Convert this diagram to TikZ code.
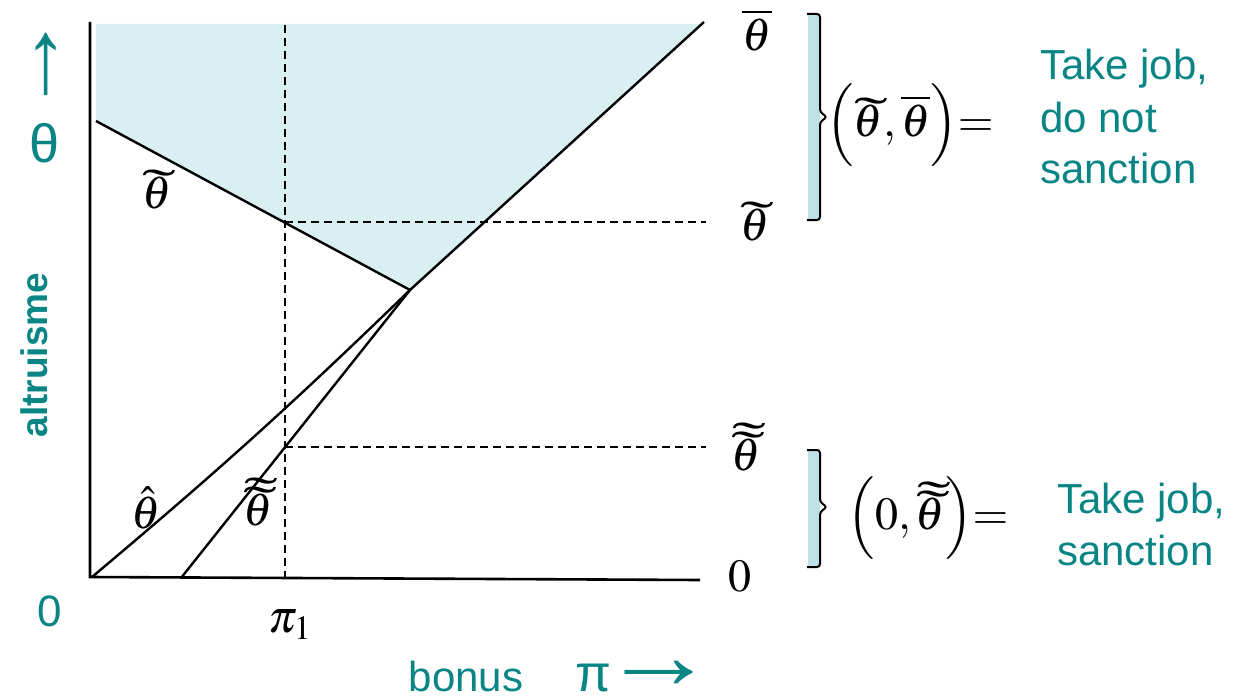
\documentclass[tikz,border=0pt]{standalone}
\usepackage{graphicx}
\usepackage{mathptmx}
\usepackage[no-math]{fontspec}
\newfontfamily\arial{Liberation Sans}
\newfontfamily\tms{Liberation Serif}
\definecolor{tealtxt}{HTML}{0A8585}
\definecolor{shadecol}{HTML}{D9EFF1}
\definecolor{bracketfill}{HTML}{BDE1E4}
\newcommand{\tacc}{\scalebox{2.2}[1.05]{\tms ˜}}
\newcommand{\tth}{\ooalign{$\theta$\cr\hidewidth\kern0.12em\raisebox{0.13em}{\tacc}\hidewidth\cr}}
\newcommand{\ttth}{\ooalign{$\theta$\cr\hidewidth\kern0.12em\raisebox{0.13em}{\tacc}\hidewidth\cr\hidewidth\kern0.15em\raisebox{0.33em}{\tacc}\hidewidth\cr}}
\tikzset{
  axisline/.style={line width=2.6pt, black},
  curve/.style={line width=2.4pt, black},
  guide/.style={line width=1.8pt, dash pattern=on 8pt off 5pt},
  mlabel/.style={inner sep=0pt, font=\fontsize{46}{52}\selectfont},
  tlabel/.style={inner sep=0pt, text=tealtxt, font=\arial\fontsize{42}{50}\selectfont},
  bracketline/.style={line width=2pt, black, rounded corners=3pt},
}
\begin{document}
\begin{tikzpicture}[x=1pt,y=-1pt]
\useasboundingbox (0,0) rectangle (1247,698);
% key points
\coordinate (O) at (92,577);
\coordinate (Ytop) at (90,22);
\coordinate (Xend) at (700,580);
\coordinate (K) at (410,290);
\coordinate (T1) at (96,121);
\coordinate (U) at (704,22);
\coordinate (D0) at (181,578);
\coordinate (P1t) at (285,25);
\coordinate (P1b) at (285,583);
\coordinate (A) at (285,222);
\coordinate (Ae) at (706,222);
\coordinate (B) at (285,447);
\coordinate (Be) at (706,447);
% shaded region
\fill[shadecol] (96,24) -- (703,24) -- (K) -- (T1) -- cycle;
% guides
\draw[guide] (P1t) -- (P1b);
\draw[guide] (A) -- (Ae);
\draw[guide] (B) -- (Be);
% axes
\draw[axisline] (Ytop) -- (90,577) -- (Xend);
% curves
\draw[curve] (T1) -- (K);
\draw[curve] (O) to[bend right=2] (K);
\draw[curve] (K) -- (U);
\draw[curve] (D0) -- (K);
% brackets
\fill[bracketfill] (808,14) rectangle (820,220);
\draw[bracketline] (807,14) -- (820,14) -- (820,112) -- (827,117) -- (820,122) -- (820,220) -- (807,220);
\fill[bracketfill] (808,450) rectangle (820,567);
\draw[bracketline] (807,450) -- (820,450) -- (820,502) -- (827,507) -- (820,512) -- (820,567) -- (807,567);
% right labels
\node[mlabel] (lbar) at (757,30) {$\overline{\theta}$};
\node[mlabel] (ltil) at (755,225) {\tth};
\node[mlabel] (ltt) at (746,455) {\ttth};
\node[mlabel] (lzero) at (740,576) {$0$};
% curve labels
\node[mlabel] (ctil) at (157,193) {\tth};
\node[mlabel] (chat) at (146,508) {$\hat{\theta}$};
\node[mlabel] (ctt) at (258,510) {\ttth};
\node[mlabel] (pi1) at (290,625) {$\pi_1$};
% interval math
\node[mlabel] (int1) at (910,125) {$\Bigl(\mbox{\tth},\overline{\theta}\Bigr)\!\!=$};
\node[mlabel] (int2) at (928,518) {$\Bigl(0,\mbox{\ttth}\Bigr)\!\!=$};
% teal texts
\node[tlabel, anchor=base west] (t1) at (1040,80) {Take job,};
\node[tlabel, anchor=base west] (t2) at (1040,132) {do not};
\node[tlabel, anchor=base west] (t3) at (1040,183) {sanction};
\node[tlabel, anchor=base west] (t4) at (1057,513) {Take job,};
\node[tlabel, anchor=base west] (t5) at (1057,565) {sanction};
% axis labels
\node[tlabel, font=\arial\fontsize{48}{52}\selectfont] (uparr) at (46,64) {\scalebox{1.8}[2.2]{↑}};
\node[tlabel, font=\arial\fontsize{54}{60}\selectfont] (theta) at (45,143) {θ};
\node[tlabel, rotate=90, font=\arial\bfseries\fontsize{37}{40}\selectfont] (altr) at (34,355) {altruisme};
\node[tlabel, font=\arial\fontsize{44}{50}\selectfont] (zero) at (50,611) {0};
\node[tlabel, anchor=base] (bonus) at (466,691) {bonus};
\node[tlabel, anchor=base, font=\arial\fontsize{52}{60}\selectfont] (pisym) at (593,691) {π};
\node[tlabel, font=\arial\fontsize{46}{50}\selectfont] (rarr) at (659,675) {\scalebox{2.5}[2.1]{→}};
\end{tikzpicture}
\end{document}
